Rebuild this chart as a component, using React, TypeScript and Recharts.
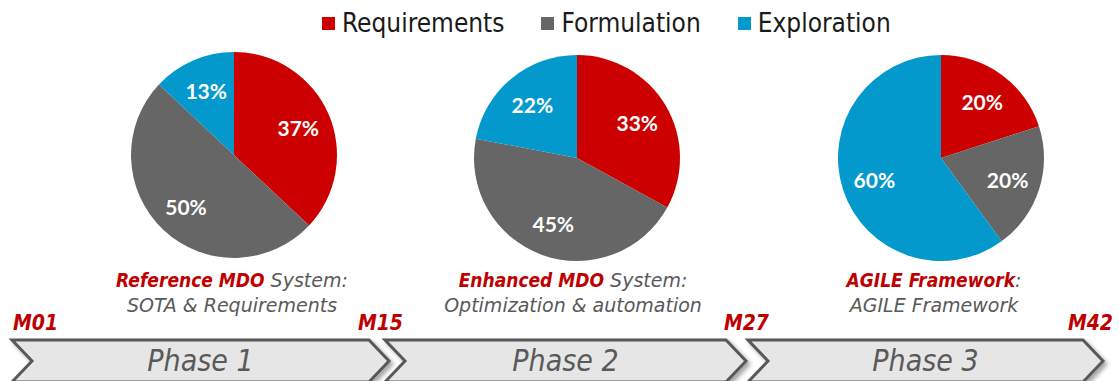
import { PieChart, Pie, Cell, Legend, Customized } from 'recharts';

const categories = ['Requirements', 'Formulation', 'Exploration'];
const colors = ['#CC0000', '#666666', '#0399CC'];

const phase1Shares = [37, 50, 13];
const phase2Shares = [33, 45, 22];
const phase3Shares = [20, 20, 60];

const phaseNames = ['Phase 1', 'Phase 2', 'Phase 3'];
const milestones = ['M01', 'M15', 'M27', 'M42'];
const systemTitles = ['Reference MDO', 'Enhanced MDO', 'AGILE Framework'];
const systemSuffixes = [' System:', ' System:', ':'];
const systemSubtitles = ['SOTA & Requirements', 'Optimization & automation', 'AGILE Framework'];

const W = 1119;
const H = 381;
const R = 103;
const pieCenters = [
  { cx: 234, cy: 155 },
  { cx: 577, cy: 158 },
  { cx: 941, cy: 158 },
];
const captionX = [232, 573, 934];
const chevrons = [
  [12, 389],
  [385, 746],
  [748, 1103],
];
const milestoneX = [13, 403, 769, 1113];
const RAD = Math.PI / 180;
const font = '"DejaVu Sans Condensed", "DejaVu Sans", sans-serif';
const wideFont = '"DejaVu Sans", sans-serif';

const toRows = (shares: number[]) => categories.map((name, i) => ({ name, value: shares[i] }));
const pies = [toRows(phase1Shares), toRows(phase2Shares), toRows(phase3Shares)];

function renderLabel(props: any) {
  const { cx, cy, midAngle, outerRadius, value } = props;
  const r = outerRadius * 0.68;
  const x = cx + r * Math.cos(-midAngle * RAD);
  const y = cy + r * Math.sin(-midAngle * RAD);
  return (
    <text x={x} y={y} fill="#fff" textAnchor="middle" dominantBaseline="central"
      style={{ fontFamily: 'Lato, sans-serif', fontWeight: 700, fontSize: 21 }}>
      {`${value}%`}
    </text>
  );
}

function LegendContent() {
  return (
    <div style={{ display: 'flex', alignItems: 'center', paddingLeft: 322, fontFamily: font, fontSize: 26, color: '#1a1a1a' }}>
      {categories.map((c, i) => (
        <div key={c} style={{ display: 'flex', alignItems: 'center', marginRight: 37 }}>
          <span style={{ width: 13, height: 13, background: colors[i], marginRight: 7, display: 'inline-block' }} />
          <span>{c}</span>
        </div>
      ))}
    </div>
  );
}

function Timeline() {
  const top = 340, bottom = 382, mid = 361, d = 20;
  return (
    <g>
      <defs>
        <filter id="chevShadow" x="-5%" y="-30%" width="115%" height="170%">
          <feDropShadow dx="3" dy="3" stdDeviation="2" floodColor="#000" floodOpacity="0.35" />
        </filter>
      </defs>
      {systemTitles.map((t, i) => (
        <g key={t} style={{ fontFamily: wideFont, fontStyle: 'italic', fontSize: 19 }}>
          <text x={captionX[i]} y={287} textAnchor="middle" fill="#595959">
            <tspan fill="#C00000" fontWeight={700} style={{ fontFamily: font }}>{t}</tspan>
            <tspan>{systemSuffixes[i]}</tspan>
          </text>
          <text x={captionX[i]} y={312} textAnchor="middle" fill="#595959">{systemSubtitles[i]}</text>
        </g>
      ))}
      {milestones.map((m, i) => (
        <text key={m} x={milestoneX[i]} y={330} textAnchor={i === 0 ? 'start' : 'end'} fill="#C00000"
          style={{ fontFamily: font, fontStyle: 'italic', fontWeight: 700, fontSize: 21 }}>
          {m}
        </text>
      ))}
      {chevrons.map(([x0, x1], i) => (
        <g key={phaseNames[i]}>
          <polygon
            points={`${x0},${top} ${x1 - d},${top} ${x1},${mid} ${x1 - d},${bottom} ${x0},${bottom} ${x0 + d},${mid}`}
            fill="#E6E6E6" stroke="#595959" strokeWidth={3} filter="url(#chevShadow)" />
          <text x={(x0 + x1) / 2} y={371} textAnchor="middle" fill="#595959"
            style={{ fontFamily: font, fontStyle: 'italic', fontSize: 30 }}>
            {phaseNames[i]}
          </text>
        </g>
      ))}
    </g>
  );
}

export default function App() {
  return (
    <div style={{ position: 'absolute', left: 0, top: 0, width: W, height: H, background: '#fff' }}>
      <PieChart width={W} height={H} margin={{ top: 0, right: 0, bottom: 0, left: 0 }}>
        {pies.map((rows, p) => (
          <Pie key={p} data={rows} dataKey="value" nameKey="name" cx={pieCenters[p].cx} cy={pieCenters[p].cy}
            outerRadius={R} startAngle={90} endAngle={-270} stroke="none" label={renderLabel} labelLine={false}
            isAnimationActive={false}>
            {rows.map((r, i) => (
              <Cell key={r.name} fill={colors[i]} />
            ))}
          </Pie>
        ))}
        <Legend verticalAlign="middle" align="center" layout="horizontal" content={<LegendContent />}
          wrapperStyle={{ top: 8, left: 0, width: W }} />
        <Customized component={<Timeline />} />
      </PieChart>
    </div>
  );
}
